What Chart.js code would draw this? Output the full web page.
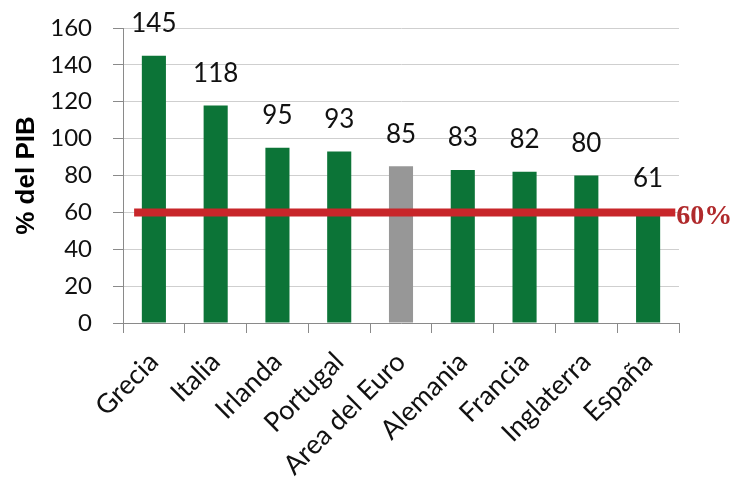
<!DOCTYPE html>
<html>
<head>
<meta charset="utf-8">
<script src="https://cdn.jsdelivr.net/npm/chart.js@4/dist/chart.umd.min.js"></script>
<style>
  html, body { margin: 0; padding: 0; background: #fff; }
  #wrap { width: 747px; height: 487px; }
</style>
</head>
<body>
<div id="wrap"><canvas id="c" width="747" height="487"></canvas></div>
<script>
// Deuda pública en % del PIB
const countries = ['Grecia', 'Italia', 'Irlanda', 'Portugal', 'Area del Euro', 'Alemania', 'Francia', 'Inglaterra', 'España'];
const debtPct = [145, 118, 95, 93, 85, 83, 82, 80, 61];
const yTicks = [0, 20, 40, 60, 80, 100, 120, 140, 160];
const referenceLevel = 60;
const referenceLabel = '60%';

const GREEN = '#0c7437';
const GREY = '#979797';
const barColors = countries.map(c => c === 'Area del Euro' ? GREY : GREEN);

// value labels above each bar
const valueLabels = {
  id: 'valueLabels',
  afterDatasetsDraw(chart) {
    const ctx = chart.ctx;
    const meta = chart.getDatasetMeta(0);
    ctx.save();
    ctx.font = '26px Lato';
    ctx.fillStyle = '#111';
    ctx.textAlign = 'center';
    ctx.textBaseline = 'middle';
    meta.data.forEach((bar, i) => {
      ctx.fillText(String(debtPct[i]), bar.x, bar.y - 32);
    });
    ctx.restore();
  }
};

// thick red reference line with its label
const referenceLine = {
  id: 'referenceLine',
  afterDatasetsDraw(chart) {
    const ctx = chart.ctx;
    const x = chart.scales.x, y = chart.scales.y;
    const yPix = y.getPixelForValue(referenceLevel);
    const x0 = x.getPixelForValue(-0.32);
    const x1 = x.getPixelForValue(countries.length - 1 + 0.44);
    ctx.save();
    ctx.strokeStyle = '#c8262a';
    ctx.lineWidth = 8;
    ctx.beginPath();
    ctx.moveTo(x0, yPix);
    ctx.lineTo(x1, yPix);
    ctx.stroke();
    ctx.font = 'bold 28px "Liberation Serif"';
    ctx.fillStyle = '#b02a2c';
    ctx.textAlign = 'left';
    ctx.textBaseline = 'middle';
    ctx.fillText(referenceLabel, x1 + 1, yPix + 4);
    ctx.restore();
  }
};

new Chart(document.getElementById('c'), {
  type: 'bar',
  data: {
    labels: countries,
    datasets: [{
      data: debtPct,
      backgroundColor: barColors,
      borderWidth: 0,
      categoryPercentage: 1,
      barPercentage: 0.39
    }]
  },
  options: {
    responsive: false,
    animation: false,
    devicePixelRatio: 1,
    layout: { padding: { top: 28, right: 68, bottom: 0, left: 0 } },
    plugins: {
      legend: { display: false },
      tooltip: { enabled: false }
    },
    scales: {
      x: {
        grid: {
          offset: true,
          drawOnChartArea: false,
          tickLength: 10,
          tickColor: '#8a8a8a'
        },
        border: { color: '#8a8a8a', width: 1 },
        ticks: {
          maxRotation: 45,
          minRotation: 45,
          padding: 13,
          color: '#111',
          font: { family: 'Lato', size: 27 }
        },
        afterFit(scale) { scale.height = 164; }
      },
      y: {
        min: 0,
        max: 160,
        afterBuildTicks(scale) { scale.ticks = yTicks.map(v => ({ value: v })); },
        grid: {
          color: '#cfcfcf',
          tickColor: '#8a8a8a',
          tickLength: 10
        },
        border: { color: '#8a8a8a', width: 1 },
        ticks: {
          padding: 21,
          color: '#111',
          font: { family: 'Lato', size: 24 }
        },
        title: {
          display: true,
          text: '% del PIB',
          color: '#000',
          font: { family: '"Liberation Sans"', size: 26, weight: 'bold' },
          padding: { top: 11, bottom: 0 }
        },
        afterFit(scale) {
          scale.width = 123;
          scale.paddingTop = 0;
          scale.paddingBottom = 0;
        }
      }
    }
  },
  plugins: [valueLabels, referenceLine]
});
</script>
</body>
</html>
